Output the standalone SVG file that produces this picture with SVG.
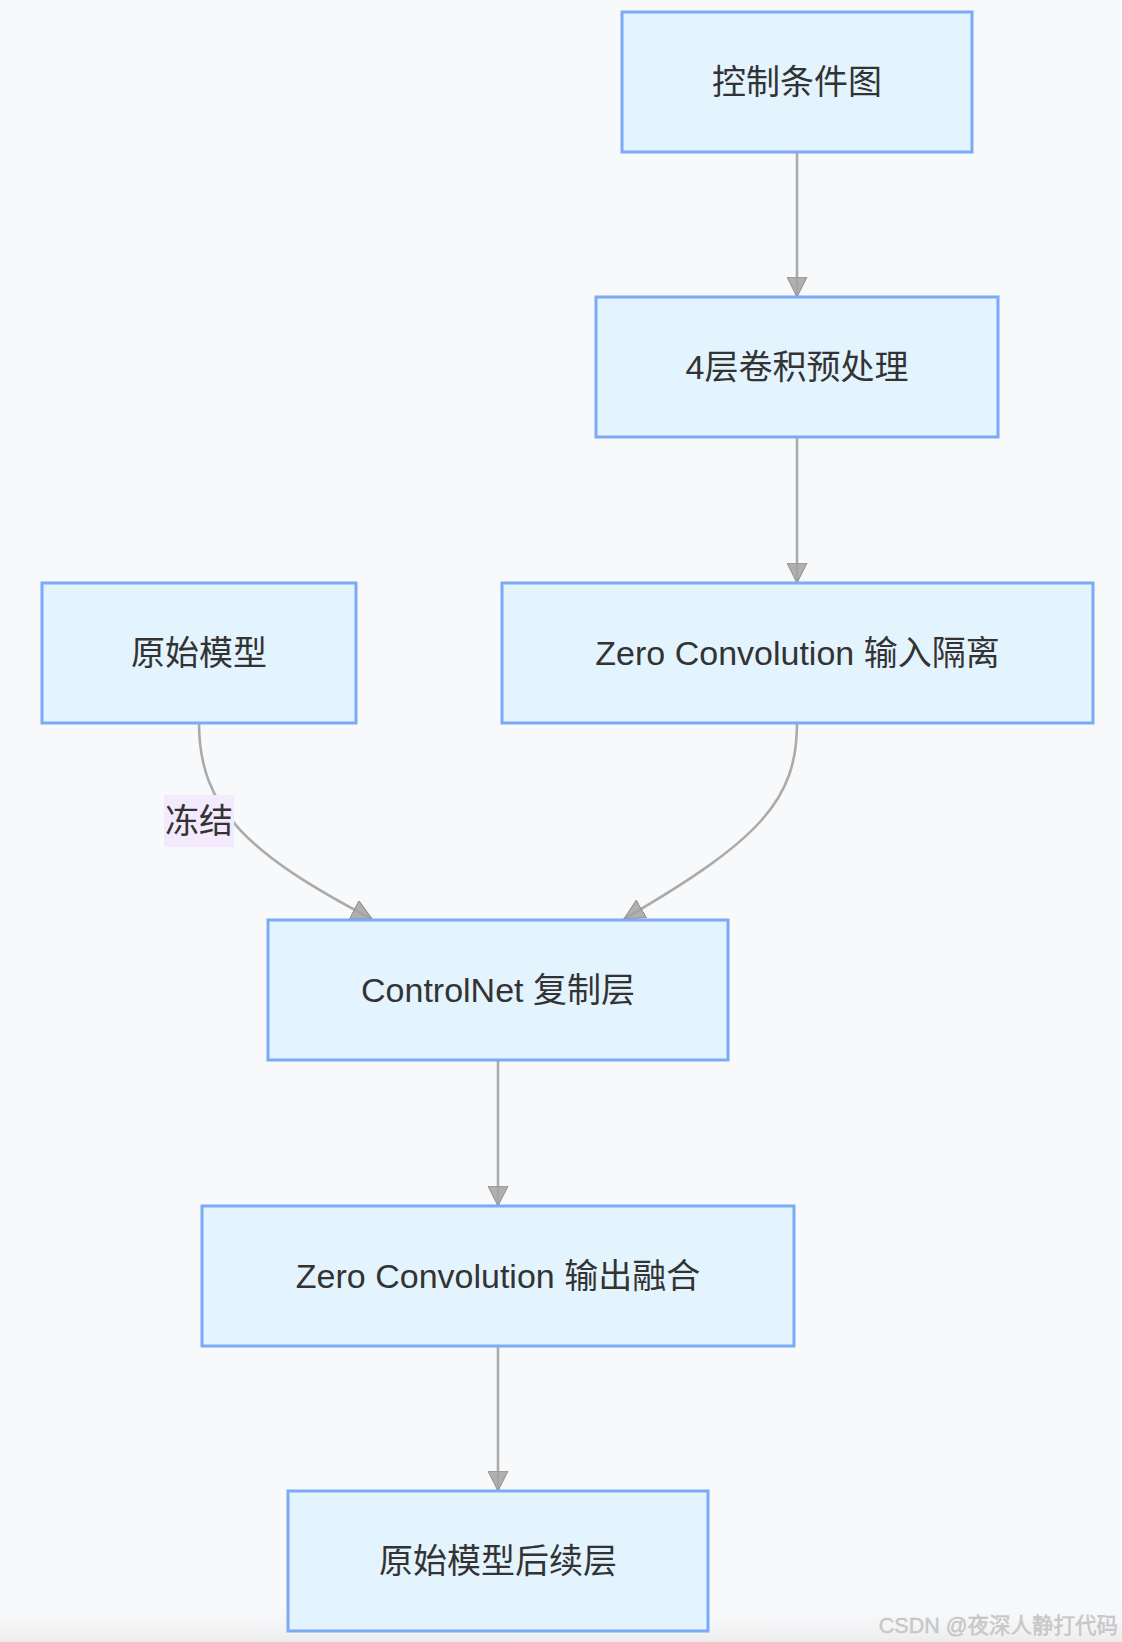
<svg xmlns="http://www.w3.org/2000/svg" width="1122" height="1642" viewBox="0 0 1122 1642">
<style>
.node rect{fill:#e4f4fe;stroke:#7baaf7;stroke-width:3}
.node text,.lbl text{font-family:"Liberation Sans","Noto Sans CJK SC",sans-serif;font-size:34px;fill:#333;text-anchor:middle;dominant-baseline:central}
.edge{fill:none;stroke:#ababab;stroke-width:2.6}
.wm{font-family:"Liberation Sans","Noto Sans CJK SC",sans-serif;font-size:21.5px;fill:#cbcbcb;stroke:#bdbdbd;stroke-width:0.4;text-anchor:end}
</style>
<defs>
<marker id="arr" markerUnits="userSpaceOnUse" viewBox="0 0 21 21" refX="20.5" refY="10.5" markerWidth="21" markerHeight="21" orient="auto">
<path d="M0.5,0.5 L20.5,10.5 L0.5,20.5 z" fill="#a3a3a3" fill-opacity="0.85" stroke="#8c8c8c" stroke-width="1"/>
</marker>
<linearGradient id="bot" x1="0" y1="0" x2="0" y2="1">
<stop offset="0" stop-color="#f8f9fb" stop-opacity="0"/>
<stop offset="1" stop-color="#ececec"/>
</linearGradient>
</defs>
<rect x="0" y="0" width="1122" height="1642" fill="#f8f9fb"/>
<rect x="0" y="1600" width="1122" height="42" fill="url(#bot)"/>
<g id="connectors">
<path class="edge" d="M797,152 L797,297" marker-end="url(#arr)"/>
<path class="edge" d="M797,437 L797,583" marker-end="url(#arr)"/>
<path class="edge" d="M199,723 C199,810 250,855 372,919" marker-end="url(#arr)"/>
<path class="edge" d="M797,723 C797,800 760,840 624,919" marker-end="url(#arr)"/>
<path class="edge" d="M498,1060 L498,1206" marker-end="url(#arr)"/>
<path class="edge" d="M498,1346 L498,1491" marker-end="url(#arr)"/>
<g class="lbl" id="label-freeze">
<rect x="164" y="795" width="70" height="52" fill="#f4eafd"/>
<text x="199" y="821">冻结</text>
</g>
</g>
<g class="node" id="node-control-map"><rect x="622" y="12" width="350" height="140"/><text x="797" y="82">控制条件图</text></g>
<g class="node" id="node-preprocess"><rect x="596" y="297" width="402" height="140"/><text x="797" y="367">4层卷积预处理</text></g>
<g class="node" id="node-original"><rect x="42" y="583" width="314" height="140"/><text x="199" y="653">原始模型</text></g>
<g class="node" id="node-zero-in"><rect x="502" y="583" width="591" height="140"/><text x="797.5" y="653">Zero Convolution 输入隔离</text></g>
<g class="node" id="node-controlnet"><rect x="268" y="920" width="460" height="140"/><text x="498" y="990">ControlNet 复制层</text></g>
<g class="node" id="node-zero-out"><rect x="202" y="1206" width="592" height="140"/><text x="498" y="1276">Zero Convolution 输出融合</text></g>
<g class="node" id="node-rest"><rect x="288" y="1491" width="420" height="140"/><text x="498" y="1561">原始模型后续层</text></g>
<text class="wm" x="1118" y="1633">CSDN @夜深人静打代码</text>
</svg>
